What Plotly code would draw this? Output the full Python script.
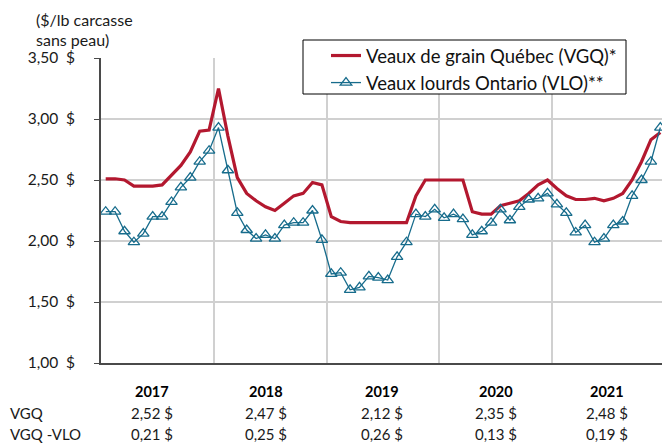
import plotly.graph_objects as go

months = list(range(60))
vgq = [2.51, 2.51, 2.50, 2.45, 2.45, 2.45, 2.46, 2.54, 2.62, 2.73, 2.90, 2.91,
       3.25, 2.86, 2.52, 2.39, 2.33, 2.28, 2.25, 2.31, 2.37, 2.39, 2.48, 2.46,
       2.20, 2.16, 2.15, 2.15, 2.15, 2.15, 2.15, 2.15, 2.15, 2.37, 2.50, 2.50,
       2.50, 2.50, 2.50, 2.24, 2.22, 2.22, 2.29, 2.31, 2.33, 2.39, 2.46, 2.50,
       2.43, 2.37, 2.34, 2.34, 2.35, 2.33, 2.35, 2.39, 2.50, 2.65, 2.83, 2.89]
vlo = [2.24, 2.24, 2.08, 1.99, 2.06, 2.20, 2.20, 2.32, 2.44, 2.52, 2.65, 2.74,
       2.93, 2.58, 2.23, 2.09, 2.02, 2.05, 2.02, 2.13, 2.15, 2.15, 2.25, 2.01,
       1.73, 1.74, 1.60, 1.62, 1.71, 1.70, 1.68, 1.87, 1.99, 2.22, 2.20, 2.26,
       2.19, 2.22, 2.18, 2.05, 2.08, 2.15, 2.26, 2.17, 2.28, 2.34, 2.35, 2.39,
       2.30, 2.23, 2.07, 2.13, 1.99, 2.02, 2.13, 2.16, 2.37, 2.50, 2.65, 2.93]
years = ["2017", "2018", "2019", "2020", "2021"]
vgq_avg = ["2,52 $", "2,47 $", "2,12 $", "2,35 $", "2,48 $"]
spread = ["0,21 $", "0,25 $", "0,26 $", "0,13 $", "0,19 $"]
ytick_vals = [1.0, 1.5, 2.0, 2.5, 3.0, 3.5]
ytick_text = ["1,00  $", "1,50  $", "2,00  $", "2,50  $", "3,00  $", "3,50  $"]
title_lines = ["($/lb carcasse", "sans peau)"]

FONT = "Lato"
RED = "#B3182F"
BLUE = "#176C8C"
TXT = "#1a1a1a"

fig = go.Figure()
fig.add_trace(go.Scatter(x=months, y=vgq, mode="lines", name="Veaux de grain Québec (VGQ)*",
                         line=dict(color=RED, width=3.2), legendgroup="a"))
fig.add_trace(go.Scatter(x=months, y=vlo, mode="lines+markers", name="Veaux lourds Ontario (VLO)**",
                         line=dict(color=BLUE, width=1.3), legendgroup="b",
                         marker=dict(symbol="triangle-up-open", size=10, color=BLUE,
                                     line=dict(width=1.3, color=BLUE)),
                         cliponaxis=False))

L, T, B, R = 101, 58, 82, 0
W, H = 662, 445
pw = W - L - R
ph = H - T - B

def px(x):
    return (x - L) / pw

def py(y):
    return (H - B - y) / ph

ann = []
for j, tl in enumerate(title_lines):
    ann.append(dict(text=tl, x=px(34), y=py(19 + 20 * j), xref="paper", yref="paper",
                    xanchor="left", yanchor="middle", showarrow=False,
                    font=dict(size=16, color=TXT, family=FONT)))
year_x = [152, 266, 382, 496, 607]
for i, yv in enumerate(years):
    ann.append(dict(text="<b>" + yv + "</b>", x=px(year_x[i]), y=py(391), xref="paper", yref="paper",
                    xanchor="center", yanchor="middle", showarrow=False,
                    font=dict(size=14.5, color="#000", family=FONT)))
    ann.append(dict(text=vgq_avg[i], x=px(year_x[i]), y=py(413), xref="paper", yref="paper",
                    xanchor="center", yanchor="middle", showarrow=False,
                    font=dict(size=15, color=TXT, family=FONT)))
    ann.append(dict(text=spread[i], x=px(year_x[i]), y=py(434), xref="paper", yref="paper",
                    xanchor="center", yanchor="middle", showarrow=False,
                    font=dict(size=15, color=TXT, family=FONT)))
ann.append(dict(text="VGQ", x=px(8), y=py(413), xref="paper", yref="paper",
                xanchor="left", yanchor="middle", showarrow=False,
                font=dict(size=15, color=TXT, family=FONT)))
ann.append(dict(text="VGQ -VLO", x=px(8), y=py(434), xref="paper", yref="paper",
                xanchor="left", yanchor="middle", showarrow=False,
                font=dict(size=15, color=TXT, family=FONT)))

shapes = [dict(type="rect", xref="paper", yref="paper",
               x0=px(303), x1=px(626), y0=py(94), y1=py(40),
               fillcolor="white", line=dict(color="#000", width=1), layer="above")]

fig.update_layout(
    width=W, height=H,
    margin=dict(l=L, r=R, t=T, b=B),
    plot_bgcolor="white", paper_bgcolor="white",
    font=dict(family=FONT, size=15, color=TXT),
    showlegend=True,
    legend=dict(x=px(326), y=py(37), xanchor="left", yanchor="top",
                bgcolor="rgba(0,0,0,0)", borderwidth=0,
                font=dict(size=18.5, color="#111", family=FONT),
                tracegroupgap=0, itemwidth=30),
    xaxis=dict(range=[-0.5, 59.18], tickvals=[11.5, 23.5, 35.5, 47.5], showticklabels=False,
               showgrid=True, gridcolor="#D0D0D0", gridwidth=1.5, zeroline=False,
               showline=True, linecolor="#4a4a4a", linewidth=1.6, ticks=""),
    yaxis=dict(range=[1.0, 3.5], tickvals=ytick_vals, ticktext=ytick_text,
               showgrid=True, gridcolor="#D0D0D0", gridwidth=1.5, zeroline=False,
               showline=True, linecolor="#4a4a4a", linewidth=1.6,
               ticks="outside", ticklen=5, tickcolor="#4a4a4a", ticklabelstandoff=16,
               tickfont=dict(size=15.5, color=TXT, family=FONT)),
    annotations=ann,
    shapes=shapes,
)

fig.write_html("out.html", config={"displayModeBar": False},
               post_script="document.body.style.margin='0';")
